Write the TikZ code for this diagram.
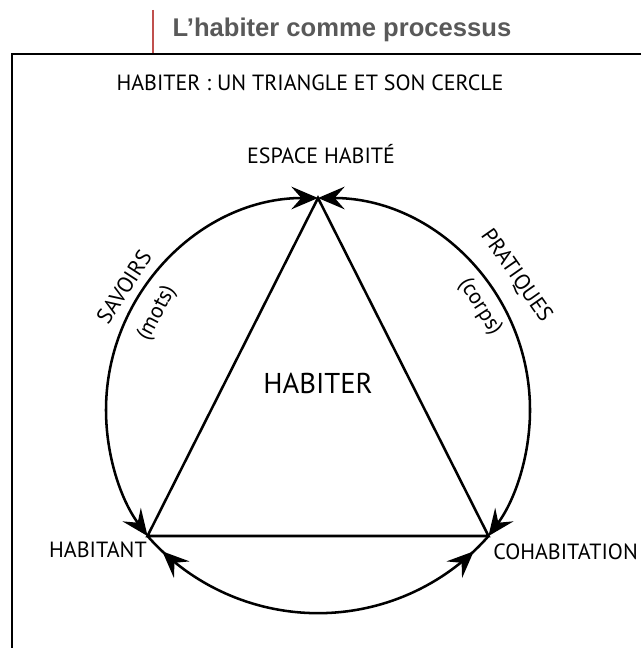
\documentclass[tikz,border=0pt]{standalone}
\usepackage{fontspec}
\setmainfont{PT Sans}
\newfontfamily\headfont{Liberation Sans}
\usepackage{xcolor}
\usepackage{tikz}
\usetikzlibrary{arrows.meta,positioning,decorations.markings,calc}
\definecolor{headgray}{HTML}{595959}
\definecolor{barred}{HTML}{C0504D}
\tikzset{>={Stealth[length=20pt,width=17pt,inset=7.5pt]},
  lab/.style={font=\fontsize{16.5}{18}\selectfont, inner sep=0pt},
  link/.style={line width=1.9pt},
  tri/.style={line width=1.9pt, line join=miter}}

\begin{document}
\begin{tikzpicture}[x=0.75pt,y=0.75pt]
			\useasboundingbox (0,0) rectangle (641,648);
			% page heading with its red mark
			\draw[barred, line width=1.6pt] (153,638) -- (153,595);
			\node[anchor=base, text=headgray, font=\headfont\bfseries\fontsize{19.2}{22}\selectfont, inner sep=0pt] (head) at (342,611) {L’habiter comme processus};
			% frame (cut by the page edge)
			\draw[line width=1.5pt] (641,594) -- (12,594) -- (12,0);
			\node[lab] (title) at (310,565) {HABITER : UN TRIANGLE ET SON CERCLE};
			
			% corners of the triangle, on the circle
			\coordinate (apex) at (318,450);
			\coordinate (hab) at (147.5,112);
			\coordinate (coh) at (488.5,112);
			\draw[tri] (apex) -- (hab) -- (coh) -- cycle;
			
			% the circle, in three arcs
			\draw[link, <->] (apex) arc[start angle=90, end angle=216.5, radius=212];
			\draw[link, <->] (apex) arc[start angle=90, end angle=-36.5, radius=212];
			\draw[link, postaction={decorate}, decoration={markings,
				mark=at position 16pt with {\arrowreversed{>}},
				mark=at position -16pt with {\arrow{>}}}]
				(hab) arc[start angle=221.3, end angle=318.7, radius=227];
			
			% names of the corners
			\node[lab] (espace) at (321,494) {ESPACE HABITÉ};
			\node[lab, anchor=east] (habitant) at (147,98) {HABITANT};
			\node[lab, anchor=west] (cohab) at (493,96) {COHABITATION};
			\node[lab, font=\fontsize{21.5}{24}\selectfont] (habiter) at (318,265) {HABITER};
			
			% words along the arcs
			\node[lab, rotate=57] (savoirs) at (124,361) {SAVOIRS};
			\node[lab, rotate=62] (mots) at (157,335) {(mots)};
			\node[lab, rotate=-55] (pratiques) at (516,372) {PRATIQUES};
			\node[lab, rotate=-57] (corps) at (480,341) {(corps)};
\end{tikzpicture}
\end{document}
